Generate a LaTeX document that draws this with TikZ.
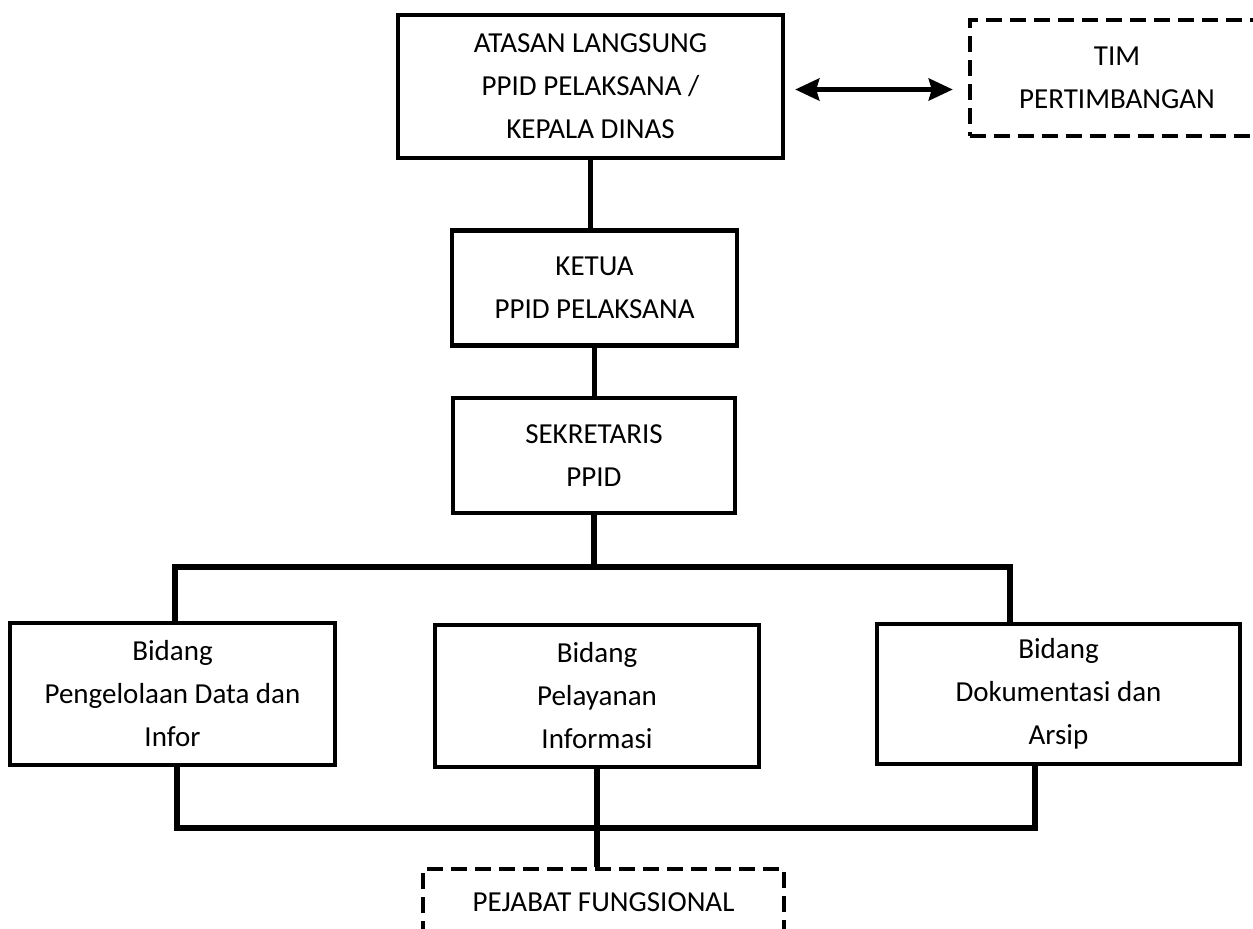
\documentclass[tikz,border=0pt]{standalone}
\usepackage{fontspec}
\setmainfont{Carlito}
\usetikzlibrary{arrows.meta}
\begin{document}
\begin{tikzpicture}[x=1pt,y=-1pt,
  orgbox/.style={draw, line width=4.5pt, align=center, inner sep=0pt,
    font=\fontsize{29}{43}\selectfont},
  dbox/.style={orgbox, dash pattern=on 16pt off 8pt},
  conn/.style={line width=5.5pt},
  arr/.style={line width=4.5pt, {Stealth[length=24pt,width=22pt,inset=3pt]}-{Stealth[length=24pt,width=22pt,inset=3pt]}}]
\clip (0,0) rectangle (1253,929);
\fill[white] (0,0) rectangle (1253,929);
\node[orgbox, minimum width=385pt, minimum height=143pt] (atasan) at (590.5,86.5) {ATASAN LANGSUNG\\PPID PELAKSANA /\\KEPALA DINAS};
\node[dbox, minimum width=294pt, minimum height=116pt] (tim) at (1117,78) {TIM\\PERTIMBANGAN};
\node[orgbox, minimum width=285pt, minimum height=115pt] (ketua) at (594.5,288) {KETUA\\PPID PELAKSANA};
\node[orgbox, minimum width=282pt, minimum height=115pt] (sekr) at (594,455.5) {SEKRETARIS\\PPID};
\node[orgbox, minimum width=325pt, minimum height=142pt] (b1) at (172.5,694) {Bidang\\Pengelolaan Data dan\\Infor};
\node[orgbox, minimum width=324pt, minimum height=142pt] (b2) at (597,696) {Bidang\\Pelayanan\\Informasi};
\node[orgbox, minimum width=363pt, minimum height=140pt] (b3) at (1058.5,694) {Bidang\\Dokumentasi dan\\Arsip};
\node[dbox, minimum width=361pt, minimum height=66pt] (pej) at (603.5,902) {PEJABAT FUNGSIONAL};
\coordinate (tl) at (175,567);
\coordinate (tr) at (1010,567);
\coordinate (bl) at (177,828);
\coordinate (br) at (1035,828);
\draw[conn] (atasan.south) -- (atasan.south |- ketua.north);
\draw[conn] (ketua.south) -- (ketua.south |- sekr.north);
\draw[conn] (sekr.south) -- (sekr.south |- tl);
\draw[conn] (b1.north -| tl) -- (tl) -- (tr) -- (b3.north -| tr);
\draw[conn] (b1.south -| bl) -- (bl) -- (br) -- (b3.south -| br);
\draw[conn] (b2.south) -- (b2.south |- pej.north);
\draw[arr, shorten <=10pt, shorten >=15pt] ([yshift=-3pt]atasan.east) -- ([yshift=-3pt]atasan.east -| tim.west);
\end{tikzpicture}
\end{document}
